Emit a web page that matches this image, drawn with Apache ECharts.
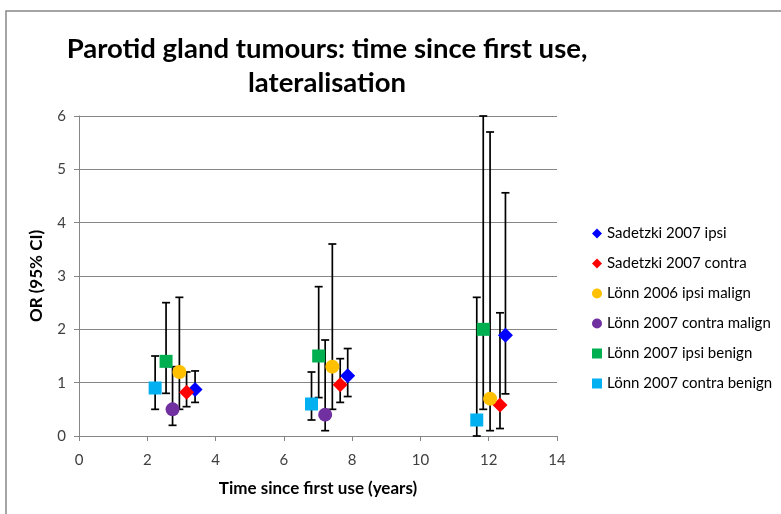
<!DOCTYPE html>
<html><head><meta charset="utf-8">
<script src="https://cdn.jsdelivr.net/npm/echarts@6/dist/echarts.min.js"></script>
<style>html,body{margin:0;padding:0;background:#fff}#c{width:781px;height:514px}</style>
</head><body><div id="c"></div><script>
// ---- data ----
const seriesNames = ['Sadetzki 2007 ipsi', 'Sadetzki 2007 contra', 'Lönn 2006 ipsi malign', 'Lönn 2007 contra malign', 'Lönn 2007 ipsi benign', 'Lönn 2007 contra benign'];
// x positions (years since first use, offset per study), OR, lower CI, upper CI
const sadIpsiX  = [3.40, 7.87, 12.49];
const sadIpsiOR = [0.87, 1.13, 1.89];
const sadIpsiLo = [0.63, 0.74, 0.79];
const sadIpsiHi = [1.22, 1.64, 4.56];

const sadContraX  = [3.15, 7.65, 12.33];
const sadContraOR = [0.82, 0.96, 0.58];
const sadContraLo = [0.55, 0.63, 0.14];
const sadContraHi = [1.20, 1.45, 2.31];

const lonnIpsiMalX  = [2.94, 7.42, 12.04];
const lonnIpsiMalOR = [1.20, 1.30, 0.70];
const lonnIpsiMalLo = [0.50, 0.50, 0.10];
const lonnIpsiMalHi = [2.60, 3.60, 5.70];

const lonnContraMalX  = [2.74, 7.21];
const lonnContraMalOR = [0.50, 0.40];
const lonnContraMalLo = [0.20, 0.10];
const lonnContraMalHi = [1.30, 1.80];

const lonnIpsiBenX  = [2.55, 7.02, 11.84];
const lonnIpsiBenOR = [1.40, 1.50, 2.00];
const lonnIpsiBenLo = [0.80, 0.72, 0.50];
const lonnIpsiBenHi = [2.50, 2.80, 6.00];

const lonnContraBenX  = [2.23, 6.81, 11.65];
const lonnContraBenOR = [0.90, 0.60, 0.30];
const lonnContraBenLo = [0.50, 0.30, 0.00];
const lonnContraBenHi = [1.50, 1.20, 2.60];

const xTicks = [0, 2, 4, 6, 8, 10, 12, 14];
const yTicks = [0, 1, 2, 3, 4, 5, 6];

// ---- styles ----
const colors = ['#0000FF', '#FF0000', '#FFC000', '#7030A0', '#00B050', '#00B0F0'];
const symbols = ['diamond', 'diamond', 'circle', 'circle', 'rect', 'rect'];
const sizes = [15, 15, 14, 14, 13, 13];
const groups = [
  [sadIpsiX, sadIpsiOR, sadIpsiLo, sadIpsiHi],
  [sadContraX, sadContraOR, sadContraLo, sadContraHi],
  [lonnIpsiMalX, lonnIpsiMalOR, lonnIpsiMalLo, lonnIpsiMalHi],
  [lonnContraMalX, lonnContraMalOR, lonnContraMalLo, lonnContraMalHi],
  [lonnIpsiBenX, lonnIpsiBenOR, lonnIpsiBenLo, lonnIpsiBenHi],
  [lonnContraBenX, lonnContraBenOR, lonnContraBenLo, lonnContraBenHi]
];
const FONT = 'Lato';

function errRender(params, api) {
  const x = api.value(0), lo = api.value(1), hi = api.value(2);
  const pLo = api.coord([x, lo]);
  const pHi = api.coord([x, hi]);
  const w = 4;
  const st = { stroke: '#000', lineWidth: 1.7 };
  return {
    type: 'group',
    children: [
      { type: 'line', shape: { x1: pLo[0], y1: pLo[1], x2: pHi[0], y2: pHi[1] }, style: st },
      { type: 'line', shape: { x1: pLo[0] - w, y1: pLo[1], x2: pLo[0] + w, y2: pLo[1] }, style: st },
      { type: 'line', shape: { x1: pHi[0] - w, y1: pHi[1], x2: pHi[0] + w, y2: pHi[1] }, style: st }
    ]
  };
}

const series = [];
groups.forEach((g, i) => {
  series.push({
    type: 'custom', name: seriesNames[i] + ' CI', renderItem: errRender,
    data: g[0].map((x, k) => [x, g[2][k], g[3][k]]),
    encode: { x: 0, y: [1, 2] }, z: 2, silent: true, clip: false
  });
});
groups.forEach((g, i) => {
  series.push({
    type: 'scatter', name: seriesNames[i],
    symbol: symbols[i], symbolSize: sizes[i],
    itemStyle: { color: colors[i], opacity: 1 },
    data: g[0].map((x, k) => [x, g[1][k]]), z: 5
  });
});

const chart = echarts.init(document.getElementById('c'), null, { renderer: 'canvas' });
chart.setOption({
  animation: false,
  backgroundColor: '#fff',
  title: {
    text: 'Parotid gland tumours: time since first use,\nlateralisation',
    left: 322, top: 27, textAlign: 'center',
    textStyle: { fontFamily: FONT, fontWeight: 'bold', fontSize: 27.5, lineHeight: 34, color: '#000' }
  },
  graphic: [{
    type: 'rect', shape: { x: 6, y: 11, width: 900, height: 700 },
    style: { fill: 'none', stroke: '#888', lineWidth: 1.5 }, silent: true, z: -1
  }],
  grid: { left: 79, right: 224, top: 116, bottom: 78 },
  legend: {
    orient: 'vertical', left: 587, top: 221,
    itemWidth: 10, itemHeight: 10, itemGap: 15,
    data: seriesNames,
    textStyle: { fontFamily: FONT, fontSize: 15, color: '#000' }
  },
  xAxis: {
    type: 'value', min: xTicks[0], max: xTicks[xTicks.length - 1], interval: 2,
    name: 'Time since first use (years)', nameLocation: 'middle', nameGap: 44,
    nameTextStyle: { fontFamily: FONT, fontWeight: 'bold', fontSize: 17, color: '#000' },
    axisLine: { show: true, lineStyle: { color: '#868686', width: 1 } },
    axisTick: { show: true, length: 5, lineStyle: { color: '#868686' } },
    axisLabel: { fontFamily: FONT, fontSize: 15, color: '#404040', margin: 17 },
    splitLine: { show: false }
  },
  yAxis: {
    type: 'value', min: yTicks[0], max: yTicks[yTicks.length - 1], interval: 1,
    name: 'OR (95% CI)', nameLocation: 'middle', nameGap: 34,
    nameTextStyle: { fontFamily: FONT, fontWeight: 'bold', fontSize: 17, color: '#000' },
    axisLine: { show: true, lineStyle: { color: '#868686', width: 1 } },
    axisTick: { show: true, length: 5, lineStyle: { color: '#868686' } },
    axisLabel: { fontFamily: FONT, fontSize: 15, color: '#404040', margin: 13 },
    splitLine: { show: true, lineStyle: { color: '#868686', width: 1 } }
  },
  series: series
});
</script></body></html>
